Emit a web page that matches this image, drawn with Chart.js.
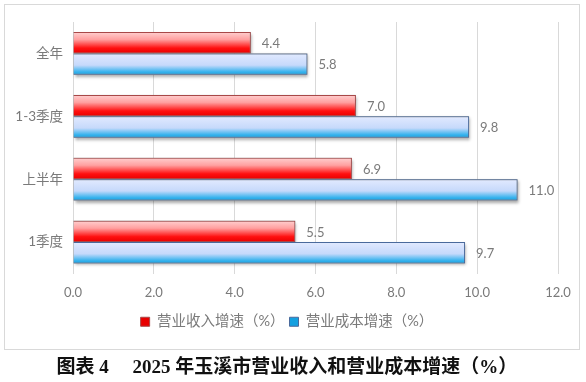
<!DOCTYPE html>
<html>
<head>
<meta charset="utf-8">
<script src="https://cdn.jsdelivr.net/npm/chart.js@4.4.1/dist/chart.umd.min.js"></script>
<style>
  html, body { margin: 0; padding: 0; background: #fff; }
  #wrap { position: relative; width: 586px; height: 382px; }
  #chart { position: absolute; left: 0; top: 0; }
  #frame { position: absolute; left: 4px; top: 4px; width: 574px; height: 344px;
           border: 1px solid #d9d9d9; pointer-events: none; }
  #caption { position: absolute; left: 0; top: 351px; width: 586px; text-align: center;
             font-family: "Liberation Serif", "Noto Sans CJK SC", serif; font-weight: bold;
             font-size: 19px; color: #111; padding-right: 12px; box-sizing: border-box; }
</style>
</head>
<body>
<div id="wrap">
  <canvas id="chart" width="586" height="350"></canvas>
  <div id="frame"></div>
  <div id="caption">图表 4　 2025 年玉溪市营业收入和营业成本增速（%）</div>
</div>
<script>
// chart data
const categories = ['全年', '1-3季度', '上半年', '1季度'];
const revenueGrowth = [4.4, 7.0, 6.9, 5.5];   // 营业收入增速（%）
const costGrowth = [5.8, 9.8, 11.0, 9.7];     // 营业成本增速（%）
const xTicks = [0, 2, 4, 6, 8, 10, 12];

const CAT_PCT = 0.68;
const TEXT_GRAY = '#7a7a7a';
const FONT = 'Lato, "Noto Sans CJK SC", sans-serif';

// vertical gradient for each bar, computed from the y scale
function barGradient(stops, fallback) {
    return function(c) {
        const chart = c.chart;
        const area = chart.chartArea;
        if (c.type !== 'data' || !area) return fallback;
        const yScale = chart.scales.y;
        const half = (area.bottom - area.top) / categories.length * CAT_PCT / 2;
        const mid = yScale.getPixelForValue(c.dataIndex);
        const top = c.datasetIndex === 0 ? mid - half : mid;
        const g = chart.ctx.createLinearGradient(0, top, 0, top + half);
        stops.forEach(s => g.addColorStop(s[0], s[1]));
        return g;
    };
}

const redStops = [[0, '#ffd0d0'], [0.35, '#ffa0a0'], [0.75, '#ff1010'], [1, '#e80000']];
const blueStops = [[0, '#e2eaff'], [0.55, '#c6d9fb'], [0.85, '#3cb4ee'], [1, '#14a0e0']];

// soft shadow under the bars
const barShadow = {
    id: 'barShadow',
    beforeDatasetsDraw(chart) {
        const ctx = chart.ctx;
        ctx.save();
        ctx.shadowColor = 'rgba(0,0,0,0.35)';
        ctx.shadowBlur = 3;
        ctx.shadowOffsetX = 1;
        ctx.shadowOffsetY = 2;
        ctx.fillStyle = '#999';
        chart.data.datasets.forEach((ds, i) => {
            chart.getDatasetMeta(i).data.forEach(el => {
                const p = el.getProps(['x', 'y', 'base', 'height'], true);
                ctx.fillRect(p.base, p.y - p.height / 2, p.x - p.base, p.height);
            });
        });
        ctx.restore();
    }
};

// value labels to the right of each bar
const valueLabels = {
    id: 'valueLabels',
    afterDatasetsDraw(chart) {
        const ctx = chart.ctx;
        ctx.save();
        ctx.font = '13px ' + FONT;
        ctx.fillStyle = TEXT_GRAY;
        ctx.textAlign = 'left';
        ctx.textBaseline = 'middle';
        chart.data.datasets.forEach((ds, i) => {
            chart.getDatasetMeta(i).data.forEach((el, j) => {
                const p = el.getProps(['x', 'y'], true);
                ctx.fillText(ds.data[j].toFixed(1), p.x + 11, p.y + 1);
            });
        });
        ctx.restore();
    }
};

new Chart(document.getElementById('chart'), {
    type: 'bar',
    data: {
        labels: categories,
        datasets: [{
            label: '营业收入增速（%）',
            data: revenueGrowth,
            backgroundColor: barGradient(redStops, '#f23a3a'),
            borderColor: '#a84848',
            borderWidth: 1,
            categoryPercentage: CAT_PCT,
            barPercentage: 1
        }, {
            label: '营业成本增速（%）',
            data: costGrowth,
            backgroundColor: barGradient(blueStops, '#9ccff5'),
            borderColor: '#4a6a9c',
            borderWidth: 1,
            categoryPercentage: CAT_PCT,
            barPercentage: 1
        }]
    },
    options: {
        indexAxis: 'y',
        responsive: false,
        animation: false,
        layout: { padding: { left: 16, top: 22, right: 28, bottom: 11 } },
        plugins: {
            legend: {
                position: 'bottom',
                labels: {
                    boxWidth: 9,
                    boxHeight: 9,
                    padding: 5,
                    color: TEXT_GRAY,
                    font: { size: 14.5, family: FONT }
                }
            },
            tooltip: { enabled: false }
        },
        scales: {
            x: {
                min: 0,
                max: 12,
                afterBuildTicks: s => { s.ticks = xTicks.map(v => ({ value: v })); },
                afterFit: s => { s.height = 36; },
                grid: { color: '#d9d9d9', drawTicks: false },
                border: { display: false },
                ticks: {
                    padding: 12,
                    color: TEXT_GRAY,
                    font: { size: 13, family: FONT },
                    callback: v => v.toFixed(1)
                }
            },
            y: {
                afterFit: s => { s.width = 57; },
                grid: { display: false, drawTicks: false },
                border: { display: false },
                ticks: {
                    padding: 10,
                    color: TEXT_GRAY,
                    font: { size: 13.5, family: FONT }
                }
            }
        }
    },
    plugins: [barShadow, valueLabels]
});
</script>
</body>
</html>
